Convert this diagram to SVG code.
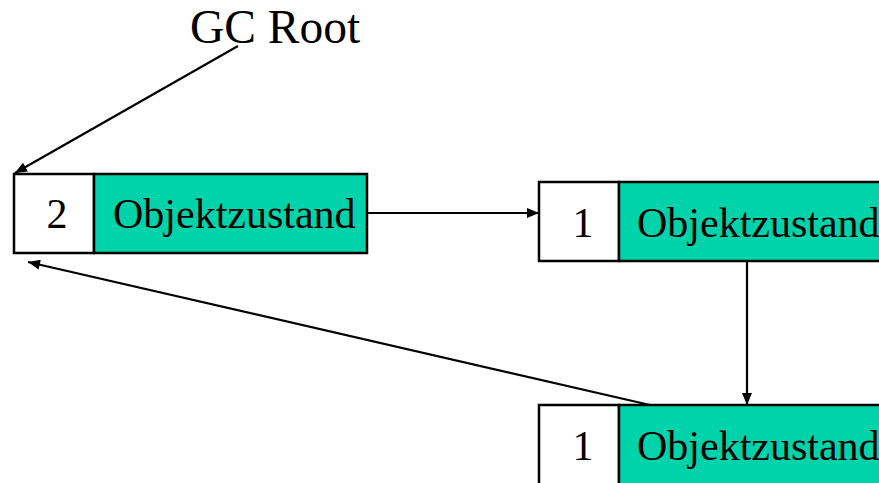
<svg xmlns="http://www.w3.org/2000/svg" width="879" height="483" viewBox="0 0 879 483">
<style>
.box{fill:#ffffff;stroke:#000;stroke-width:2.5}
.state{fill:#00d3aa;stroke:#000;stroke-width:2.5}
.t{font-family:"Liberation Serif","Times New Roman",serif;fill:#000}
.lbl{font-size:42px}
.edge{stroke:#000;stroke-width:2.2;fill:none;marker-end:url(#ah)}
</style>
<defs>
<marker id="ah" viewBox="0 0 12 10" refX="12" refY="5" markerWidth="13" markerHeight="10" markerUnits="userSpaceOnUse" orient="auto">
<path d="M0,0 L12,5 L0,10 Z" fill="#000"/>
</marker>
</defs>
<rect width="879" height="483" fill="#fff"/>
<text class="t" x="190" y="43" font-size="47.5">GC Root</text>
<g id="connectors">
<line class="edge" x1="238" y1="46" x2="15" y2="173"/>
<line class="edge" x1="367" y1="213" x2="539" y2="213"/>
<line class="edge" x1="747" y1="261" x2="747" y2="405"/>
<line class="edge" x1="650" y1="405" x2="28" y2="262"/>
</g>
<g id="node1">
<rect class="box" x="14" y="174" width="80" height="79"/>
<rect class="state" x="94" y="174" width="273" height="79"/>
<text class="t lbl" x="57" y="228" text-anchor="middle">2</text>
<text class="t lbl" x="113" y="228">Objektzustand</text>
</g>
<g id="node2">
<rect class="box" x="539" y="182" width="80" height="79"/>
<rect class="state" x="619" y="182" width="280" height="79"/>
<text class="t lbl" x="583" y="237" text-anchor="middle">1</text>
<text class="t lbl" x="637" y="237">Objektzustand</text>
</g>
<g id="node3">
<rect class="box" x="539" y="405" width="80" height="100"/>
<rect class="state" x="619" y="405" width="280" height="100"/>
<text class="t lbl" x="583" y="460" text-anchor="middle">1</text>
<text class="t lbl" x="637" y="460">Objektzustand</text>
</g>
</svg>
